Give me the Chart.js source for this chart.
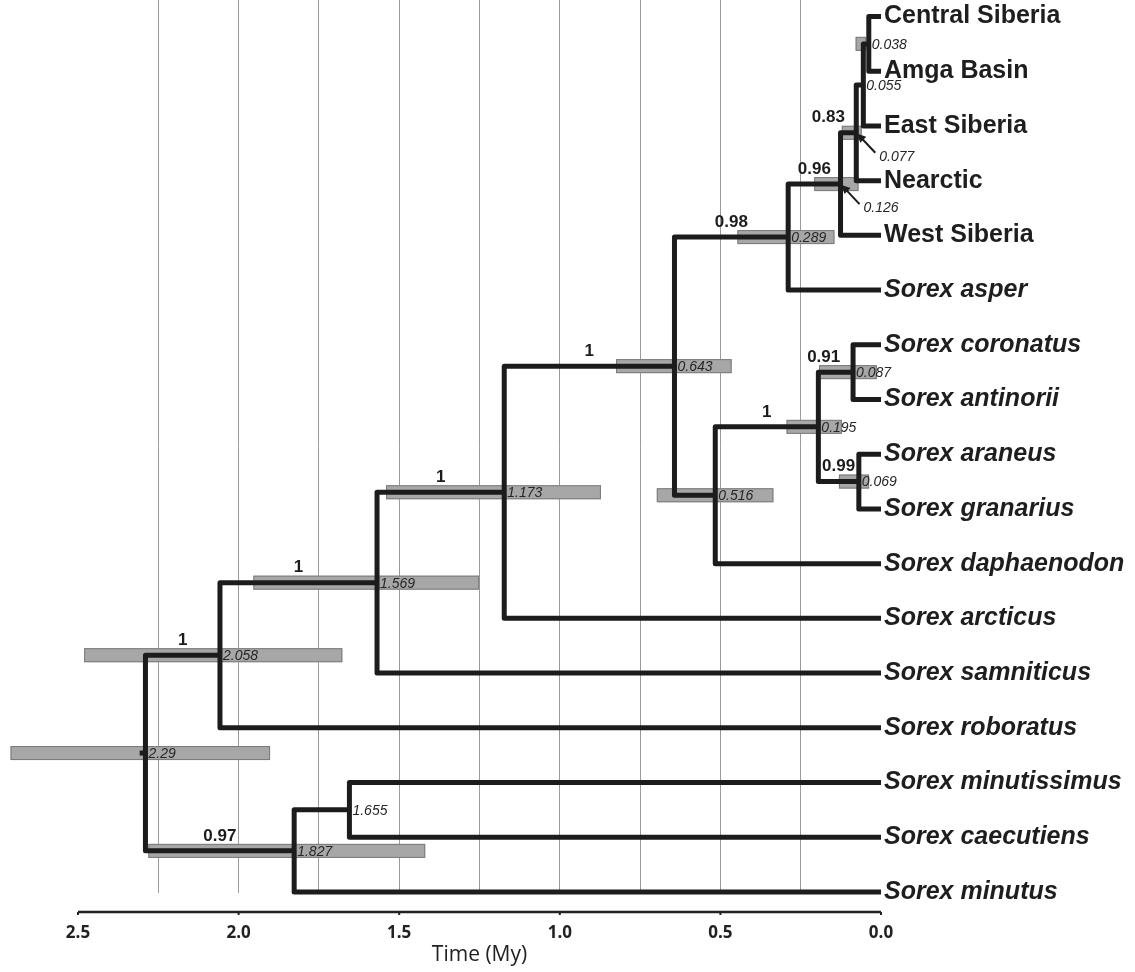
<!DOCTYPE html>
<html>
<head>
<meta charset="utf-8">
<script src="https://cdn.jsdelivr.net/npm/chart.js@4.4.1/dist/chart.umd.min.js"></script>
<style>
  html, body { margin: 0; padding: 0; background: #fff; }
</style>
</head>
<body>
<canvas id="tree" width="1135" height="972"></canvas>
<script>
// Tips, top to bottom
const tipNames = ["Central Siberia", "Amga Basin", "East Siberia", "Nearctic", "West Siberia",
    "Sorex asper", "Sorex coronatus", "Sorex antinorii", "Sorex araneus", "Sorex granarius",
    "Sorex daphaenodon", "Sorex arcticus", "Sorex samniticus", "Sorex roboratus",
    "Sorex minutissimus", "Sorex caecutiens", "Sorex minutus"];
const italicFrom = 5;

// Internal nodes: children ("t" tip index, "n" node index), mean age, 95% HPD, posterior
const nodeKids = [["t0", "t1"], ["n0", "t2"], ["n1", "t3"], ["n2", "t4"], ["n3", "t5"],
    ["t6", "t7"], ["t8", "t9"], ["n5", "n6"], ["n7", "t10"], ["n4", "n8"], ["n9", "t11"],
    ["n10", "t12"], ["n11", "t13"], ["t14", "t15"], ["n13", "t16"], ["n12", "n14"]];
const nodeAge = [0.038, 0.055, 0.077, 0.126, 0.289, 0.087, 0.069, 0.195, 0.516, 0.643,
    1.173, 1.569, 2.058, 1.655, 1.827, 2.29];
const hpdLow = [0.046, null, 0.06, 0.07, 0.145, 0.013, 0.037, 0.122, 0.335, 0.465,
    0.872, 1.251, 1.677, null, 1.419, 1.902];
const hpdHigh = [0.079, null, 0.122, 0.208, 0.447, 0.193, 0.131, 0.294, 0.698, 0.825,
    1.541, 1.954, 2.481, null, 2.281, 2.710];
const support = [null, null, "0.83", "0.96", "0.98", "0.91", "0.99", "1", null, "1",
    "1", "1", "1", null, "0.97", null];
const rootStub = 0.018;

// Axis
const timeTicks = [2.5, 2.0, 1.5, 1.0, 0.5, 0.0];
const timeStep = 0.25;

// Label placement tweaks (pixels)
const arrowNodes = [2, 3];
const supportShift = { 2: -20, 5: -12 };

const INK = "#1c1c1c";
const FONT = "'Liberation Sans', Arial, sans-serif";
const AXIS_FONT = "'Open Sans', sans-serif";

// Resolve positions: tip row = index, node row = mean of children
const parentOf = {};
nodeKids.forEach((k, i) => { parentOf[k[0]] = i; parentOf[k[1]] = i; });
function place(ref) {
    const idx = Number(ref.slice(1));
    if (ref[0] === "t") return { age: 0, row: idx };
    const a = place(nodeKids[idx][0]);
    const b = place(nodeKids[idx][1]);
    return { age: nodeAge[idx], row: (a.row + b.row) / 2 };
}
const nodePos = nodeAge.map((_, i) => place("n" + i));
const rootIdx = nodeAge.length - 1;

const datasets = nodeKids.map((k, i) => {
    const a = place(k[0]);
    const b = place(k[1]);
    const age = nodeAge[i];
    return {
        data: [{ x: a.age, y: a.row }, { x: age, y: a.row }, { x: age, y: b.row }, { x: b.age, y: b.row }]
    };
});
datasets.push({
    data: [{ x: nodeAge[rootIdx] + rootStub, y: nodePos[rootIdx].row }, { x: nodeAge[rootIdx], y: nodePos[rootIdx].row }]
});
datasets.forEach(d => Object.assign(d, {
    showLine: true,
    borderColor: INK,
    borderWidth: 5,
    borderJoinStyle: "round",
    borderCapStyle: "butt",
    pointRadius: 0,
    tension: 0,
    clip: false
}));

const treePlugin = {
    id: "treeDecor",
    beforeDatasetsDraw(chart) {
        const { ctx, scales: { x, y } } = chart;
        ctx.save();
        nodeAge.forEach((age, i) => {
            if (hpdLow[i] === null) return;
            const x0 = x.getPixelForValue(hpdHigh[i]);
            const x1 = x.getPixelForValue(hpdLow[i]);
            const yc = y.getPixelForValue(nodePos[i].row);
            ctx.fillStyle = "#a7a7a7";
            ctx.strokeStyle = "#7a7a7a";
            ctx.lineWidth = 1;
            ctx.fillRect(x0, yc - 7, x1 - x0, 14);
            ctx.strokeRect(x0 + 0.5, yc - 6.5, x1 - x0 - 1, 13);
        });
        ctx.restore();
    },
    afterDatasetsDraw(chart) {
        const { ctx, scales: { x, y } } = chart;
        ctx.save();
        // node ages
        ctx.font = "italic 14px " + FONT;
        ctx.fillStyle = "#262626";
        ctx.textAlign = "left";
        ctx.textBaseline = "middle";
        nodeAge.forEach((age, i) => {
            const px = x.getPixelForValue(age);
            const py = y.getPixelForValue(nodePos[i].row);
            if (arrowNodes.includes(i)) {
                const lx = px + 23, ly = py + 24;
                ctx.fillText(age.toFixed(3), lx, ly);
                ctx.strokeStyle = INK;
                ctx.lineWidth = 2;
                ctx.beginPath();
                ctx.moveTo(lx - 4, ly - 4);
                ctx.lineTo(px + 3, py + 3);
                ctx.stroke();
                ctx.fillStyle = INK;
                ctx.beginPath();
                ctx.moveTo(px + 1, py + 1);
                ctx.lineTo(px + 10, py + 4);
                ctx.lineTo(px + 4, py + 10);
                ctx.closePath();
                ctx.fill();
                ctx.fillStyle = "#262626";
            } else {
                ctx.fillText(String(age), px + 3, py + 1);
            }
        });
        // posterior support above the branch
        ctx.font = "bold 17px " + FONT;
        ctx.fillStyle = INK;
        ctx.textAlign = "center";
        support.forEach((s, i) => {
            if (s === null) return;
            const parent = parentOf["n" + i];
            const mid = (x.getPixelForValue(nodeAge[parent]) + x.getPixelForValue(nodeAge[i])) / 2;
            ctx.fillText(s, mid + (supportShift[i] || 0), y.getPixelForValue(nodePos[i].row) - 15);
        });
        ctx.restore();
    },
    afterDraw(chart) {
        const { ctx, chartArea, scales: { x } } = chart;
        const ay = chartArea.bottom + 19;
        ctx.save();
        ctx.strokeStyle = "#222";
        ctx.lineWidth = 2.5;
        ctx.beginPath();
        ctx.moveTo(x.getPixelForValue(timeTicks[0]), ay);
        ctx.lineTo(x.getPixelForValue(timeTicks[timeTicks.length - 1]), ay);
        ctx.stroke();
        ctx.lineWidth = 2;
        timeTicks.forEach(t => {
            const px = x.getPixelForValue(t);
            ctx.beginPath();
            ctx.moveTo(px, ay);
            ctx.lineTo(px, ay + 3);
            ctx.stroke();
        });
        ctx.restore();
    }
};

new Chart(document.getElementById("tree"), {
    type: "scatter",
    data: { datasets },
    options: {
        responsive: false,
        animation: false,
        layout: { padding: { left: 78, top: 0, right: 0, bottom: 0 } },
        plugins: { legend: { display: false }, tooltip: { enabled: false } },
        scales: {
            x: {
                type: "linear",
                position: "bottom",
                reverse: true,
                min: timeTicks[timeTicks.length - 1],
                max: timeTicks[0],
                border: { display: false },
                grid: {
                    drawTicks: false,
                    lineWidth: 1,
                    color: c => (c.tick && c.tick.value > 0 && c.tick.value < timeTicks[0]) ? "#9a9a9a" : "rgba(0,0,0,0)"
                },
                ticks: {
                    stepSize: timeStep,
                    autoSkip: false,
                    maxRotation: 0,
                    padding: 30,
                    color: "#222",
                    font: { family: AXIS_FONT, size: 17, weight: "bold" },
                    callback: v => timeTicks.some(t => Math.abs(t - v) < 1e-6) ? v.toFixed(1) : ""
                },
                title: {
                    display: true,
                    text: "Time (My)",
                    color: "#222",
                    font: { family: AXIS_FONT, size: 21 },
                    padding: { top: 0, bottom: 4 }
                },
                afterFit: s => { s.height = 79; s.paddingLeft = 0; s.paddingRight = 0; }
            },
            y: {
                type: "linear",
                position: "right",
                reverse: true,
                min: -0.302,
                max: 16.02,
                border: { display: false },
                grid: { display: false, drawTicks: false },
                afterBuildTicks: s => { s.ticks = tipNames.map((_, i) => ({ value: i })); },
                afterFit: s => { s.width = 254; s.paddingTop = 0; s.paddingBottom = 0; },
                ticks: {
                    autoSkip: false,
                    padding: 3,
                    color: "#1e1e1e",
                    font: c => ({
                        family: FONT,
                        size: 25,
                        weight: "bold",
                        style: (c.tick && c.tick.value >= italicFrom) ? "italic" : "normal"
                    }),
                    callback: v => tipNames[v]
                }
            }
        }
    },
    plugins: [treePlugin]
});
</script>
</body>
</html>
